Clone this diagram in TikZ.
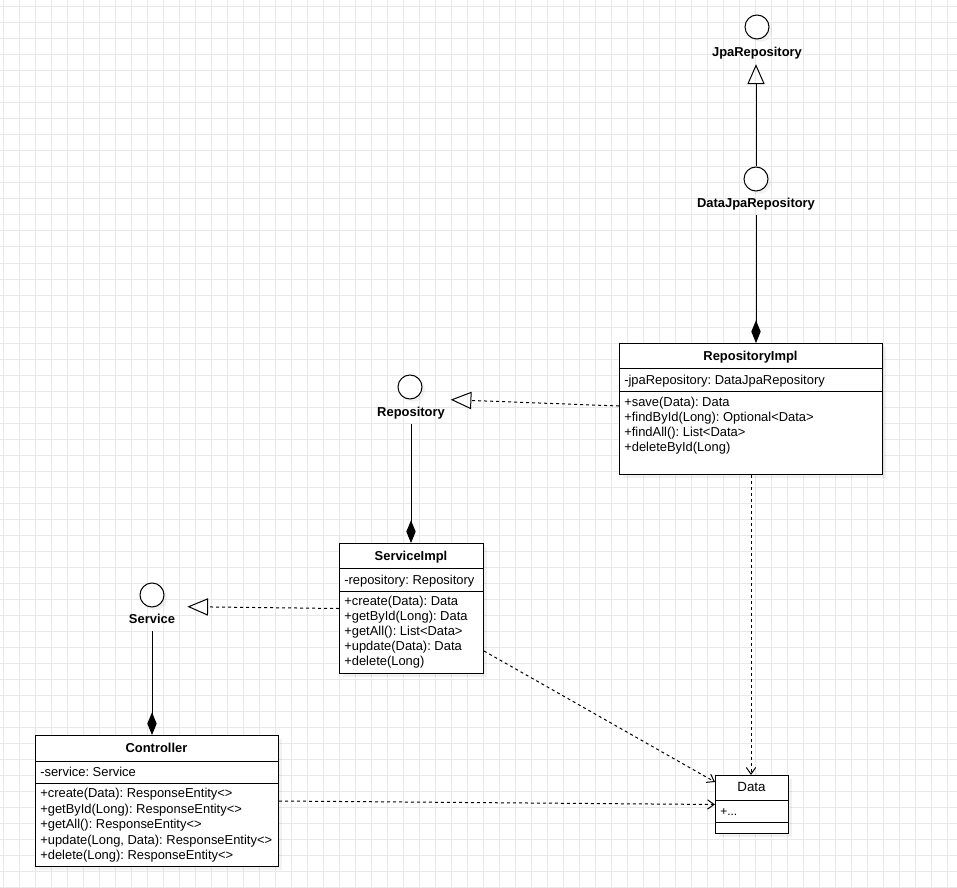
\documentclass[tikz,border=0pt]{standalone}
\usepackage{fontspec}
\setmainfont{Liberation Sans}
\usetikzlibrary{arrows.meta,shadows}
\frenchspacing

\newcommand\umlfont{\fontsize{9.7pt}{11.25pt}\selectfont}

\tikzset{
    gridline/.style={gray!18, line width=0.75pt},
    softshadow/.style={drop shadow={shadow xshift=2.25pt, shadow yshift=-2.25pt, opacity=0.1}},
    classbox/.style={draw, fill=white, line width=0.75pt, anchor=north west, inner sep=0pt, softshadow},
    classname/.style={font=\umlfont\bfseries, inner sep=0pt, anchor=base},
    member/.style={font=\umlfont, inner sep=0pt, anchor=base west},
    iface/.style={circle, draw, fill=white, line width=0.75pt, minimum size=18pt, inner sep=0pt, softshadow},
    ifacename/.style={font=\umlfont\bfseries, text height=7pt, text depth=2pt, inner sep=3.5pt},
    uml/.style={line width=0.75pt},
    realize/.style={uml, dash pattern=on 2.25pt off 2.25pt, -{Triangle[open, length=15.5pt, width=13pt]}},
    extend/.style={uml, -{Triangle[open, length=15pt, width=13pt]}},
    compose/.style={uml, -{Diamond[length=17pt, width=7pt]}},
    depend/.style={uml, dash pattern=on 2.25pt off 2.25pt, -{Straight Barb[length=5pt, width=7pt]}},
}

\begin{document}
\begin{tikzpicture}[x=0.75pt, y=-0.75pt]
    \useasboundingbox[fill=white] (0,0) rectangle (957,888);
    % background grid
    \foreach \gx in {3,19,...,947} \draw[gridline] (\gx,0) -- (\gx,888);
    \foreach \gy in {7,23,...,887} \draw[gridline] (0,\gy) -- (957,\gy);

    % interfaces
    \node[iface] (jpa) at (757,27) {};
    \node[ifacename] (jpa-label) at (757,53.3) {JpaRepository};
    \node[iface] (djpa) at (756,179) {};
    \node[ifacename] (djpa-label) at (756,204.3) {DataJpaRepository};
    \node[iface] (repo) at (410,387) {};
    \node[ifacename] (repo-label) at (411,413.3) {Repository};
    \node[iface] (svc) at (152,595) {};
    \node[ifacename] (svc-label) at (152,620.3) {Service};

    % RepositoryImpl
    \node[classbox, minimum width=197.25pt, minimum height=98.25pt] (rimpl) at (619,343) {};
    \draw[uml] ([yshift=-18.75pt]rimpl.north west) -- ([yshift=-18.75pt]rimpl.north east);
    \draw[uml] ([yshift=-36pt]rimpl.north west) -- ([yshift=-36pt]rimpl.north east);
    \node[classname] (rimpl-name) at (750.5,360.1) {RepositoryImpl};
    \node[member] (rimpl-attr) at (624,384.1) {-jpaRepository: DataJpaRepository};
    \foreach \op [count=\i from 0] in {+save(Data): Data, +findById(Long): Optional<Data>, +findAll(): List<Data>, +deleteById(Long)}
        \node[member] (rimpl-op\i) at (624,406.6+15*\i) {\op};

    % ServiceImpl
    \node[classbox, minimum width=108pt, minimum height=97.5pt] (simpl) at (339,543) {};
    \draw[uml] ([yshift=-18.75pt]simpl.north west) -- ([yshift=-18.75pt]simpl.north east);
    \draw[uml] ([yshift=-36pt]simpl.north west) -- ([yshift=-36pt]simpl.north east);
    \node[classname] (simpl-name) at (411,560.1) {ServiceImpl};
    \node[member] (simpl-attr) at (344,584.1) {-repository: Repository};
    \foreach \op [count=\i from 0] in {+create(Data): Data, +getById(Long): Data, +getAll(): List<Data>, +update(Data): Data, +delete(Long)}
        \node[member] (simpl-op\i) at (344,605.6+15*\i) {\op};

    % Controller
    \node[classbox, minimum width=182.25pt, minimum height=98.25pt] (ctrl) at (35,735) {};
    \draw[uml] ([yshift=-19.5pt]ctrl.north west) -- ([yshift=-19.5pt]ctrl.north east);
    \draw[uml] ([yshift=-36pt]ctrl.north west) -- ([yshift=-36pt]ctrl.north east);
    \node[classname] (ctrl-name) at (156.5,752.5) {Controller};
    \node[member] (ctrl-attr) at (40,776.6) {-service: Service};
    \foreach \op [count=\i from 0] in {+create(Data): ResponseEntity<>, +getById(Long): ResponseEntity<>, +getAll(): ResponseEntity<>, {+update(Long, Data): ResponseEntity<>}, +delete(Long): ResponseEntity<>}
        \node[member] (ctrl-op\i) at (40,797.6+15.5*\i) {\op};

    % Data
    \node[classbox, minimum width=54.75pt, minimum height=43.5pt] (data) at (715,775) {};
    \draw[uml] ([yshift=-18.75pt]data.north west) -- ([yshift=-18.75pt]data.north east);
    \draw[uml] ([yshift=-35.25pt]data.north west) -- ([yshift=-35.25pt]data.north east);
    \node[classname, font=\fontsize{10pt}{12pt}\selectfont] (data-name) at (751.5,791.5) {Data};
    \node[member, font=\fontsize{9pt}{11pt}\selectfont] (data-attr) at (720,815) {+...};

    % relations
    \draw[extend] (djpa.north) -- (djpa.north |- jpa-label.south);
    \draw[compose] (djpa-label) -- (djpa-label |- rimpl.north);
    \draw[realize] ([yshift=2.25pt]rimpl.west) -- ([xshift=0.75pt,yshift=2pt]repo-label.north east);
    \draw[compose] (repo-label) -- (repo-label |- simpl.north);
    \draw[realize] (simpl.west) -- ([xshift=5.6pt,yshift=2pt]svc-label.north east);
    \draw[compose] (svc-label) -- (svc-label |- ctrl.north);
    \draw[depend] (rimpl.south) -- (rimpl.south |- data.north);
    \draw[depend] ([yshift=17.25pt]simpl.south east) -- ([yshift=-5.25pt]data.north west);
    \draw[depend] (ctrl.east) -- (data.west);
\end{tikzpicture}
\end{document}
